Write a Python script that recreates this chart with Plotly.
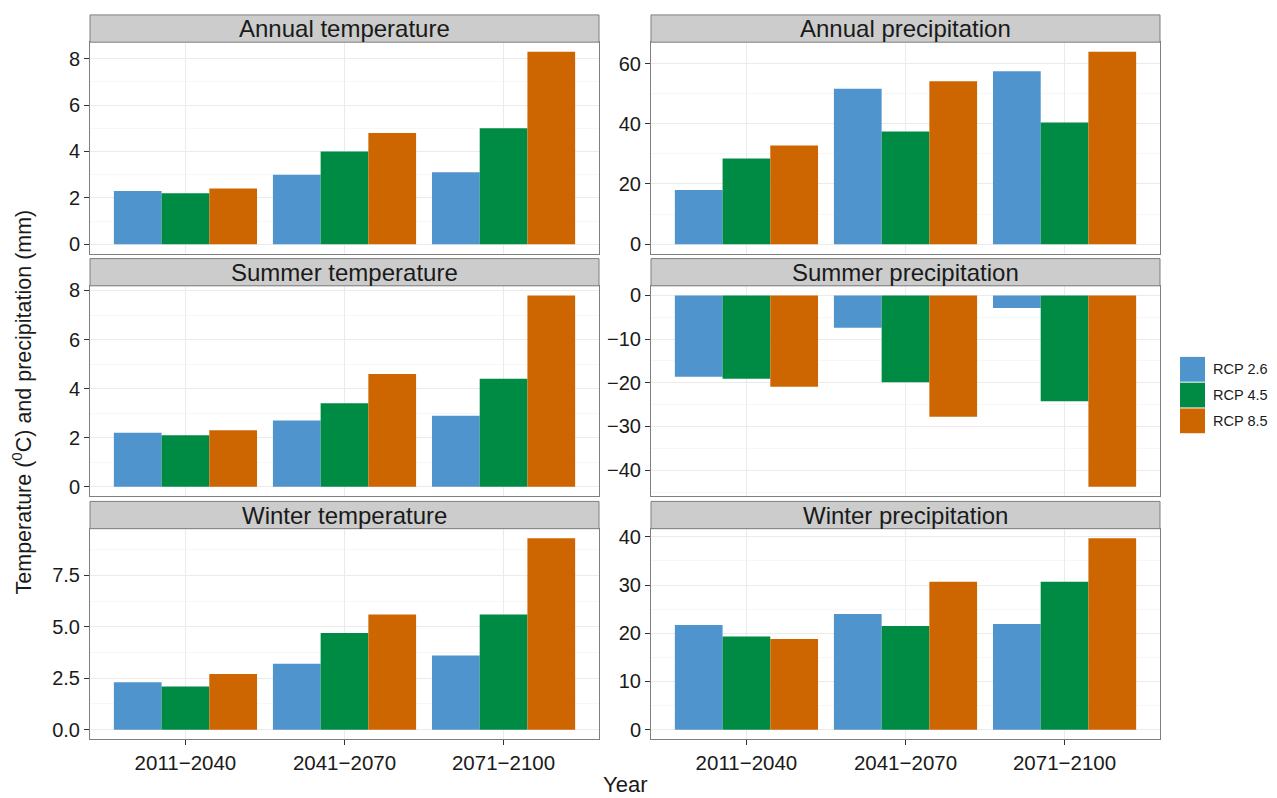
import plotly.graph_objects as go
from plotly.subplots import make_subplots

# ---------------- data ----------------
periods = ["2011−2040", "2041−2070", "2071−2100"]
scenarios = ["RCP 2.6", "RCP 4.5", "RCP 8.5"]
colors = ["#4F94CD", "#008B45", "#CD6600"]

# each panel: one list per scenario (RCP 2.6, RCP 4.5, RCP 8.5), values per period
annual_temp = [[2.3, 3.0, 3.1], [2.2, 4.0, 5.0], [2.4, 4.8, 8.3]]
annual_prec = [[18.0, 51.6, 57.4], [28.5, 37.4, 40.4], [32.8, 54.1, 63.9]]
summer_temp = [[2.2, 2.7, 2.9], [2.1, 3.4, 4.4], [2.3, 4.6, 7.8]]
summer_prec = [[-18.6, -7.4, -2.9], [-19.1, -19.9, -24.2], [-20.9, -27.8, -43.8]]
winter_temp = [[2.3, 3.2, 3.6], [2.1, 4.7, 5.6], [2.7, 5.6, 9.3]]
winter_prec = [[21.7, 24.0, 21.9], [19.3, 21.5, 30.7], [18.8, 30.7, 39.7]]

panel_titles = ["Annual temperature", "Annual precipitation",
                "Summer temperature", "Summer precipitation",
                "Winter temperature", "Winter precipitation"]
panel_data = [annual_temp, annual_prec, summer_temp, summer_prec, winter_temp, winter_prec]

annual_temp_ticks = [0, 2, 4, 6, 8]
annual_prec_ticks = [0, 20, 40, 60]
summer_temp_ticks = [0, 2, 4, 6, 8]
summer_prec_ticks = [-40, -30, -20, -10, 0]
winter_temp_ticks = [0, 2.5, 5, 7.5]
winter_prec_ticks = [0, 10, 20, 30, 40]
panel_ticks = [annual_temp_ticks, annual_prec_ticks, summer_temp_ticks,
               summer_prec_ticks, winter_temp_ticks, winter_prec_ticks]
winter_temp_labels = ["0.0", "2.5", "5.0", "7.5"]

# ---------------- layout geometry (pixels) ----------------
W, H = 1277, 798
col_px = [(90, 599), (651, 1160)]
row_plot_px = [(36.5, 250.0), (282.3, 494.7), (527.3, 739.7)]
row_strip_px = [(9.0, 36.5), (254.8, 282.3), (499.8, 527.3)]
FONT = "Liberation Sans, Arial, sans-serif"

def fx(px):
    return px / W

def fy(px):
    return 1 - px / H

def fmt(v):
    s = ("%g" % v)
    return s.replace("-", "−")

fig = make_subplots(rows=3, cols=2)

shapes = []
annotations = []

for i, (title, data, ticks) in enumerate(zip(panel_titles, panel_data, panel_ticks)):
    r, c = i // 2, i % 2
    for s_idx, (name, color) in enumerate(zip(scenarios, colors)):
        fig.add_trace(
            go.Bar(x=periods, y=data[s_idx], name=name, marker_color=color,
                   marker_line_width=0, legendgroup=name, showlegend=False,
                   hoverinfo="x+y+name"),
            row=r + 1, col=c + 1)

    allv = [v for ser in data for v in ser] + [0]
    lo, hi = min(allv), max(allv)
    pad = (hi - lo) * 0.05
    yr = [lo - pad, hi + pad]

    if ticks is winter_temp_ticks:
        ticktext = winter_temp_labels
    else:
        ticktext = [fmt(t) for t in ticks]
    step = ticks[1] - ticks[0]
    minor_vals = [t + step / 2 for t in [ticks[0] - step] + ticks if yr[0] < t + step / 2 < yr[1]]

    ax_idx = i + 1
    xname = "xaxis" if ax_idx == 1 else "xaxis%d" % ax_idx
    yname = "yaxis" if ax_idx == 1 else "yaxis%d" % ax_idx

    x0, x1 = col_px[c]
    ytop, ybot = row_plot_px[r]
    fig.layout[xname].update(
        domain=[fx(x0), fx(x1)],
        type="category", categoryorder="array", categoryarray=periods,
        range=[-0.6, 2.6],
        showgrid=True, gridcolor="#EBEBEB", gridwidth=1,
        showline=True, mirror=True, linecolor="#7F7F7F", linewidth=1,
        ticks="outside" if r == 2 else "", ticklen=5, tickcolor="#333333",
        showticklabels=(r == 2),
        tickfont=dict(family=FONT, size=20.5, color="#1A1A1A"),
        fixedrange=True,
    )
    fig.layout[yname].update(
        domain=[fy(ybot), fy(ytop)],
        range=yr,
        tickmode="array", tickvals=ticks, ticktext=ticktext,
        showgrid=True, gridcolor="#EBEBEB", gridwidth=1,
        zeroline=False,
        minor=dict(tickmode="array", tickvals=minor_vals, showgrid=True,
                   gridcolor="#F7F7F7", gridwidth=1, ticks=""),
        showline=True, mirror=True, linecolor="#7F7F7F", linewidth=1,
        ticks="outside", ticklen=5, tickcolor="#333333",
        tickfont=dict(family=FONT, size=20, color="#1A1A1A"),
        fixedrange=True,
    )

    # strip
    st, sb = row_strip_px[r]
    shapes.append(dict(type="rect", xref="paper", yref="paper",
                       x0=fx(x0), x1=fx(x1), y0=fy(sb), y1=fy(st),
                       fillcolor="#CCCCCC", line=dict(color="#7F7F7F", width=1),
                       layer="above"))
    annotations.append(dict(text=title, xref="paper", yref="paper",
                            x=fx((x0 + x1) / 2), y=fy((st + sb) / 2),
                            xanchor="center", yanchor="middle", showarrow=False,
                            font=dict(family=FONT, size=24, color="#1A1A1A")))

# legend (keys drawn as swatches, labels as text)
key_x0, key_x1 = 1180, 1205
key_top, key_h, key_gap = 354, 25, 1
for k, (name, color) in enumerate(zip(scenarios, colors)):
    t = key_top + k * (key_h + key_gap)
    shapes.append(dict(type="rect", xref="paper", yref="paper",
                       x0=fx(key_x0), x1=fx(key_x1), y0=fy(t + key_h), y1=fy(t),
                       fillcolor=color, line=dict(width=0)))
    annotations.append(dict(text=name, xref="paper", yref="paper",
                            x=fx(1211), y=fy(t + key_h / 2),
                            xanchor="left", yanchor="middle", showarrow=False,
                            font=dict(family=FONT, size=14.5, color="#1A1A1A")))

# axis titles
annotations.append(dict(text="Year", xref="paper", yref="paper",
                        x=fx(625), y=fy(785), xanchor="center", yanchor="middle",
                        showarrow=False,
                        font=dict(family=FONT, size=22, color="#1A1A1A")))
annotations.append(dict(text="Temperature (<sup>0</sup>C) and precipitation (mm)",
                        xref="paper", yref="paper",
                        x=fx(22), y=fy(400), xanchor="center", yanchor="middle",
                        textangle=-90, showarrow=False,
                        font=dict(family=FONT, size=21.5, color="#1A1A1A")))

fig.update_layout(
    width=W, height=H, autosize=False,
    margin=dict(l=0, r=0, t=0, b=0),
    paper_bgcolor="white", plot_bgcolor="white",
    barmode="group", bargap=0.1, bargroupgap=0,
    shapes=shapes, annotations=annotations,
    showlegend=False,
    font=dict(family=FONT),
)

fig.write_html(
    "out.html",
    config={"displayModeBar": False},
    post_script=(
        "document.body.style.margin='0';document.body.style.padding='0';"
        "document.documentElement.style.overflow='hidden';"
        "var gd=document.getElementById('{plot_id}');"
        "gd.style.position='absolute';gd.style.top='0px';gd.style.left='0px';"
    ),
)
